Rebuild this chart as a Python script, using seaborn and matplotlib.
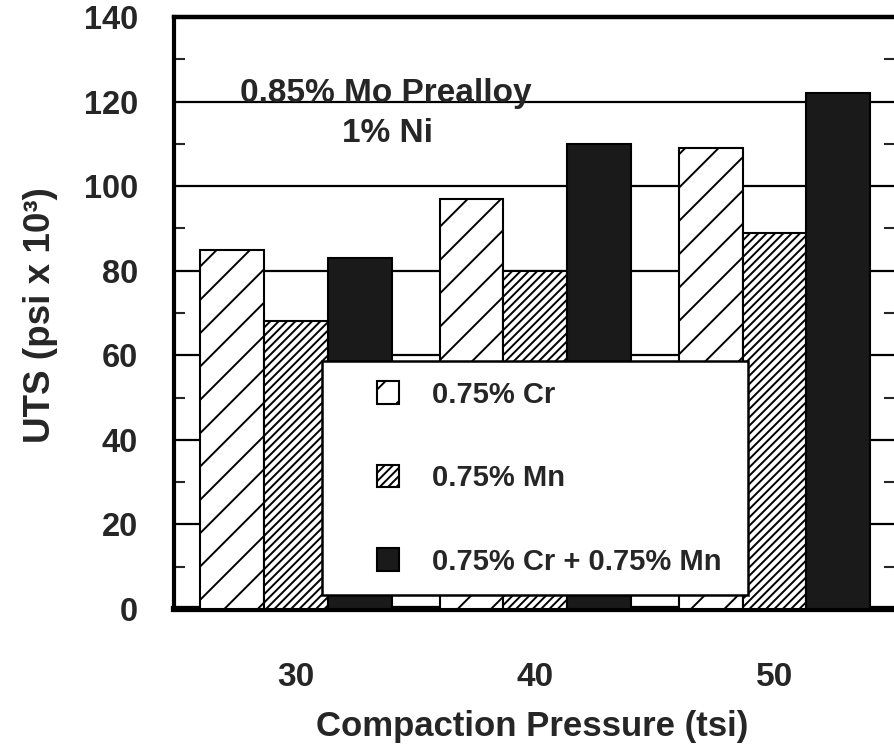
import numpy as np
import pandas as pd
import matplotlib
matplotlib.use("Agg")
import matplotlib.pyplot as plt
from matplotlib.patches import Patch, Rectangle
from matplotlib.legend_handler import HandlerPatch
from matplotlib.ticker import MultipleLocator
import seaborn as sns

# ---------------------------------------------------------------------------
# Data
# ---------------------------------------------------------------------------
PRESSURES = ["30", "40", "50"]
ALLOYS = ["0.75% Cr", "0.75% Mn", "0.75% Cr + 0.75% Mn"]
UTS_CR = [85, 97, 109]
UTS_MN = [68, 80, 89]
UTS_CRMN = [83, 110, 122]

COLORS = ["white", "white", "#1a1a1a"]
HATCHES = ["/", "////", ""]

df = pd.DataFrame({
    "pressure": PRESSURES * 3,
    "alloy": [a for a in ALLOYS for _ in PRESSURES],
    "uts": UTS_CR + UTS_MN + UTS_CRMN,
})


def square_at_right(legend, orig_handle, xdescent, ydescent, width, height, fontsize):
    """Small square handle pushed to the right end of the handle slot."""
    return Rectangle((width - height - xdescent, -ydescent), height, height)


# ---------------------------------------------------------------------------
# Plot
# ---------------------------------------------------------------------------
sns.set_theme(style="white")
plt.rcParams["font.family"] = ["Liberation Sans", "DejaVu Sans"]
plt.rcParams["font.weight"] = "bold"
plt.rcParams["hatch.linewidth"] = 1.4

fig = plt.figure(figsize=(8.94, 7.55), dpi=100)
ax = fig.add_axes([0.1946, 0.1934, 0.807, 0.7841])

sns.barplot(data=df, x="pressure", y="uts", hue="alloy", hue_order=ALLOYS,
            palette=COLORS, edgecolor="black", linewidth=1.5, width=0.8,
            saturation=1, legend=False, ax=ax, zorder=3)

for cont, hatch in zip(ax.containers, HATCHES):
    for bar in cont:
        bar.set_hatch(hatch)

ax.set_ylim(0, 140)
ax.set_xlim(-0.51, 2.505)
ax.yaxis.set_major_locator(MultipleLocator(20))
ax.yaxis.set_minor_locator(MultipleLocator(10))
ax.yaxis.grid(True, which="major", color="black", linewidth=1.6, zorder=1)
ax.set_axisbelow(True)

ax.tick_params(axis="y", which="major", length=0, pad=26, labelsize=23.5)
ax.tick_params(axis="y", which="minor", direction="in", length=8, width=1.5,
               left=True, right=True)
ax.tick_params(axis="x", length=0, pad=38, labelsize=24)
for lab in ax.get_xticklabels() + ax.get_yticklabels():
    lab.set_fontweight("bold")

for side, lw in [("left", 3.0), ("bottom", 4.5), ("top", 3.2), ("right", 2.4)]:
    ax.spines[side].set_visible(True)
    ax.spines[side].set_color("black")
    ax.spines[side].set_linewidth(lw)

ax.set_xlabel("Compaction Pressure (tsi)", fontsize=25, fontweight="bold")
ax.set_ylabel("UTS (psi x 10³)", fontsize=26.5, fontweight="bold")
ax.xaxis.set_label_coords(0.496, -0.171)
ax.yaxis.set_label_coords(-0.161, 0.497)

ax.text(0.294, 0.856, "0.85% Mo Prealloy", transform=ax.transAxes,
        ha="center", va="baseline", fontsize=24, fontweight="bold")
ax.text(0.296, 0.789, "1% Ni", transform=ax.transAxes,
        ha="center", va="baseline", fontsize=24, fontweight="bold")

handles = [Patch(facecolor=c, edgecolor="black", hatch=h, linewidth=1.5)
           for c, h in zip(COLORS, HATCHES)]
leg = ax.legend(handles, ALLOYS, loc="lower left",
                bbox_to_anchor=(0.205, 0.024, 0.591, 0.392), mode="expand",
                borderaxespad=0, frameon=True, fancybox=False,
                prop={"weight": "bold", "size": 21}, handlelength=2.0,
                handleheight=0.8, handletextpad=1.13, labelspacing=1.9,
                borderpad=0.66,
                handler_map={Patch: HandlerPatch(patch_func=square_at_right)})
leg.get_frame().set_edgecolor("black")
leg.get_frame().set_linewidth(1.8)
leg.get_frame().set_facecolor("white")
leg.get_frame().set_alpha(1)
leg.set_zorder(5)

fig.savefig("out.png", dpi=100)
